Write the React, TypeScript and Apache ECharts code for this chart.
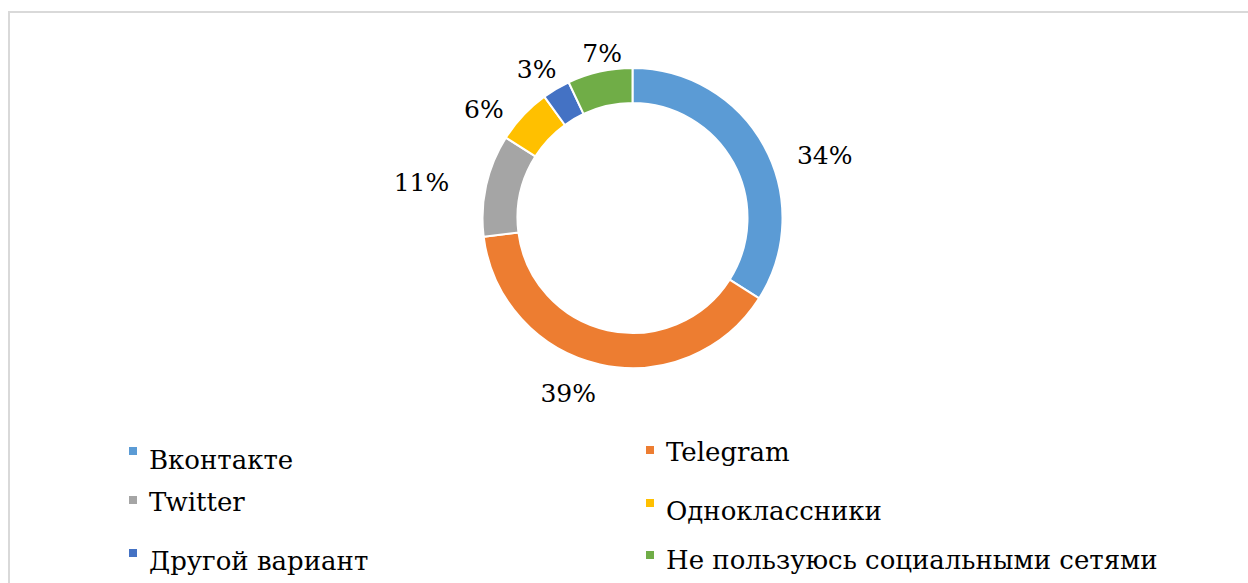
import React, { useEffect, useRef } from "react";
import * as echarts from "echarts";

const categories = [
  "Вконтакте",
  "Telegram",
  "Twitter",
  "Одноклассники",
  "Другой вариант",
  "Не пользуюсь социальными сетями",
];
const values = [34, 39, 11, 6, 3, 7];
const colors = ["#5B9BD5", "#ED7D31", "#A5A5A5", "#FFC000", "#4472C4", "#70AD47"];

// legend item placement: [left, top of item box, icon box height]
const legendPos: [number, number, number][] = [
  [127, 445, 28],
  [644, 439, 14],
  [127, 489, 14],
  [644, 497, 26],
  [127, 547, 26],
  [644, 547, 20],
];
// label nudges relative to the default outside placement
const labelNudge: [number, number][] = [
  [21, 14],
  [3, 21],
  [-29, -1],
  [-6, -8],
  [19, -21],
  [29, -10],
];

const FONT = "DejaVu Serif";

function iconFor(h: number) {
  return `path://M0,0H10V10H0Z M0,${h}h0.01v0.01h-0.01Z`;
}

export default function App() {
  const ref = useRef<HTMLDivElement>(null);
  useEffect(() => {
    document.body.style.margin = "0";
    document.body.style.overflow = "hidden";
    const chart = echarts.init(ref.current!, undefined, { renderer: "svg" });
    chart.setOption({
      animation: false,
      backgroundColor: "#ffffff",
      color: colors,
      textStyle: { fontFamily: FONT },
      graphic: [
        {
          type: "rect",
          shape: { x: 9, y: 12, width: 1400, height: 800 },
          style: { fill: "none", stroke: "#d9d9d9", lineWidth: 2 },
          silent: true,
        },
      ],
      legend: categories.map((name, i) => ({
        data: [name],
        left: legendPos[i][0],
        top: legendPos[i][1],
        icon: iconFor(legendPos[i][2]),
        itemWidth: 10,
        itemHeight: legendPos[i][2],
        padding: 0,
        selectedMode: false,
        textStyle: {
          fontFamily: FONT,
          fontSize: 26,
          lineHeight: 26,
          color: "#000",
          padding: [0, 0, 0, 6],
        },
      })),
      series: [
        {
          type: "pie",
          center: [632.5, 218],
          radius: [115, 150],
          startAngle: 90,
          clockwise: true,
          data: categories.map((name, i) => ({ name, value: values[i] })),
          itemStyle: { borderColor: "#ffffff", borderWidth: 2 },
          label: {
            show: true,
            position: "outside",
            formatter: "{c}%",
            fontFamily: FONT,
            fontSize: 25,
            color: "#000",
          },
          labelLine: { show: false, length: 8, length2: 0 },
          labelLayout: (p: any) => ({
            dx: labelNudge[p.dataIndex][0],
            dy: labelNudge[p.dataIndex][1],
          }),
          emphasis: { disabled: true },
        },
      ],
    });
    return () => chart.dispose();
  }, []);
  return <div ref={ref} style={{ width: 1248, height: 583 }} />;
}
